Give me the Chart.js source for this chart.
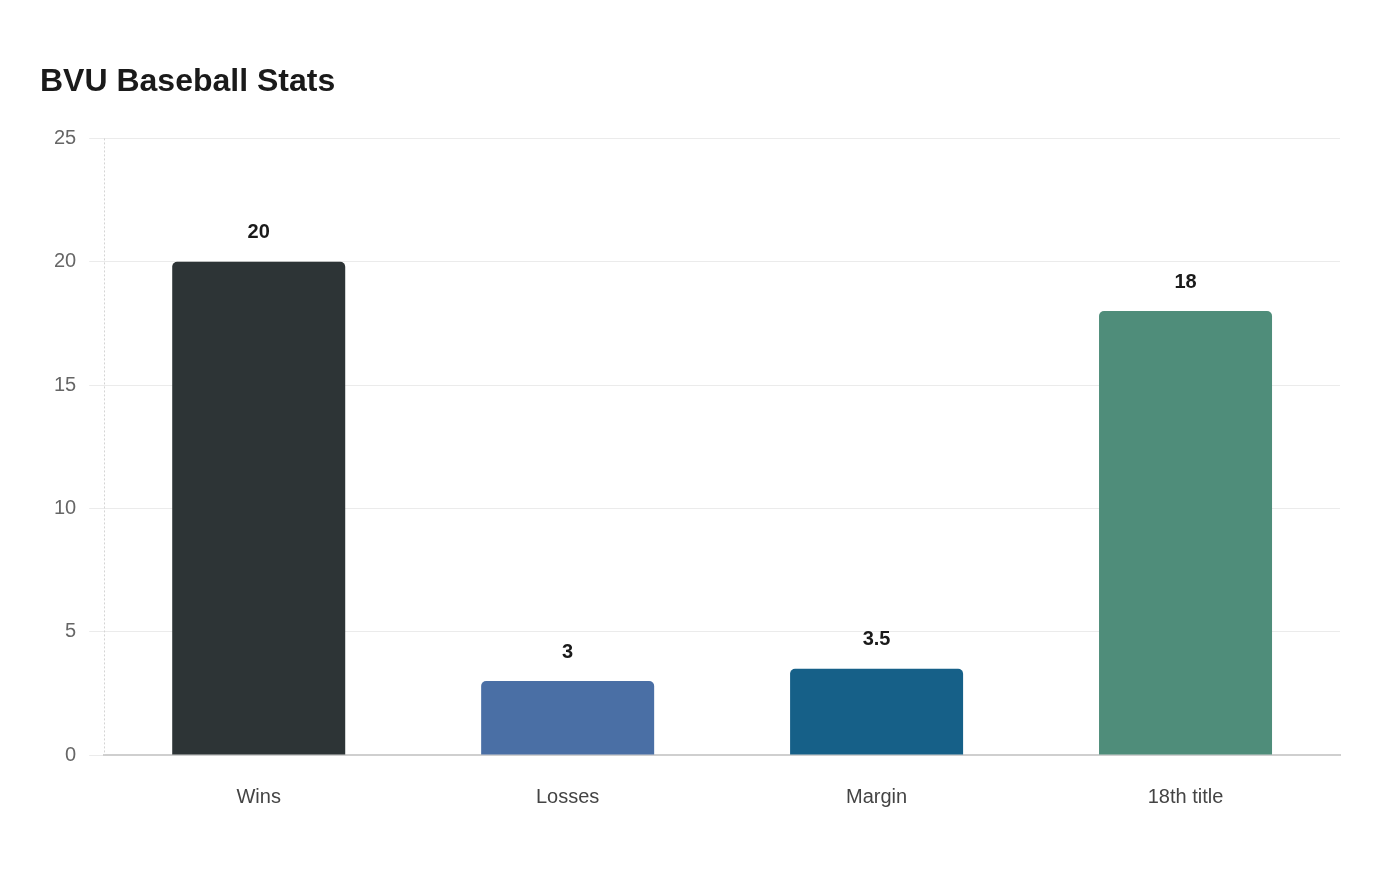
<!DOCTYPE html>
<html>
<head>
<meta charset="utf-8">
<script src="https://cdn.jsdelivr.net/npm/chart.js@4"></script>
<style>
html,body{margin:0;padding:0;background:#fff;}
#wrap{width:1400px;height:880px;}
</style>
</head>
<body>
<div id="wrap"><canvas id="c" width="1400" height="880"></canvas></div>
<script>
const categories = ["Wins", "Losses", "Margin", "18th title"];
const values = [20, 3, 3.5, 18];
const barColors = ["#2d3436", "#4a6fa5", "#166088", "#4f8d7a"];
const yTicks = [0, 5, 10, 15, 20, 25];

const valueLabels = {
  id: 'valueLabels',
  beforeDatasetsDraw(chart) {
    const ctx = chart.ctx;
    const a = chart.chartArea;
    ctx.save();
    ctx.strokeStyle = '#d4d4d4';
    ctx.lineWidth = 1;
    ctx.setLineDash([2, 2]);
    ctx.beginPath();
    ctx.moveTo(Math.round(a.left) + 0.5, a.top);
    ctx.lineTo(Math.round(a.left) + 0.5, a.bottom);
    ctx.stroke();
    ctx.restore();
  },
  afterDatasetsDraw(chart) {
    const ctx = chart.ctx;
    const meta = chart.getDatasetMeta(0);
    ctx.save();
    ctx.font = 'bold 20px "Liberation Sans", Arial, sans-serif';
    ctx.fillStyle = '#1a1a1a';
    ctx.textAlign = 'center';
    ctx.textBaseline = 'middle';
    meta.data.forEach((bar, i) => {
      ctx.fillText(String(values[i]), bar.x, bar.y - 29);
    });
    ctx.restore();
  }
};

new Chart(document.getElementById('c'), {
  type: 'bar',
  data: {
    labels: categories,
    datasets: [{
      data: values,
      backgroundColor: barColors,
      borderRadius: {topLeft: 5, topRight: 5, bottomLeft: 0, bottomRight: 0},
      borderSkipped: 'bottom',
      barPercentage: 0.7,
      categoryPercentage: 0.8
    }]
  },
  options: {
    responsive: false,
    animation: false,
    devicePixelRatio: 1,
    layout: {padding: {left: 40, right: 60, top: 63, bottom: 49}},
    plugins: {
      legend: {display: false},
      tooltip: {enabled: false},
      title: {
        display: true,
        text: 'BVU Baseball Stats',
        align: 'start',
        color: '#1a1a1a',
        font: {family: '"Liberation Sans", Arial, sans-serif', size: 32, weight: 'bold'},
        padding: {top: 0, bottom: 37}
      }
    },
    scales: {
      y: {
        min: 0,
        max: 25,
        afterBuildTicks(axis) { axis.ticks = yTicks.map(v => ({value: v})); },
        afterFit(axis) { axis.width += 1; },
        ticks: {
          color: '#666',
          font: {family: '"Liberation Sans", Arial, sans-serif', size: 20},
          padding: 13
        },
        grid: {color: '#ebebeb', lineWidth: 1, tickLength: 15, drawTicks: true},
        border: {display: false}
      },
      x: {
        ticks: {
          color: '#444',
          font: {family: '"Liberation Sans", Arial, sans-serif', size: 20},
          padding: 22
        },
        grid: {display: false},
        border: {display: true, color: '#cfcfcf', width: 2}
      }
    }
  },
  plugins: [valueLabels]
});
</script>
</body>
</html>
